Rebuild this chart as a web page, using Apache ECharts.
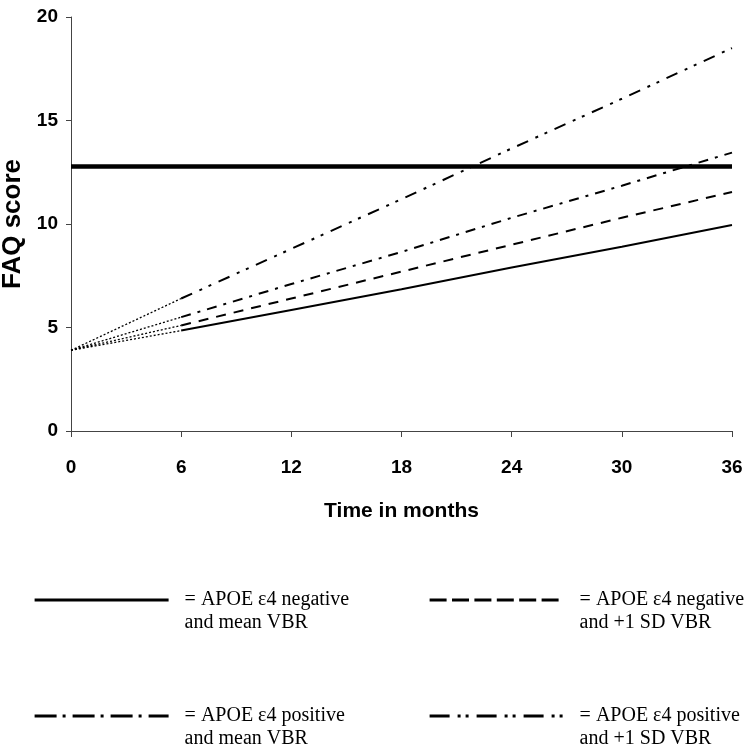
<!DOCTYPE html>
<html>
<head>
<meta charset="utf-8">
<script src="https://cdn.jsdelivr.net/npm/echarts@6/dist/echarts.min.js"></script>
<style>html,body{margin:0;padding:0;background:#fff}#c{width:754px;height:755px}</style>
</head>
<body>
<div id="c"></div>
<script>
// ---- data ----
var months = [0, 6, 12, 18, 24, 30, 36];
var negMean = [3.9, 4.85, 5.85, 6.85, 7.9, 8.9, 9.95];
var negSD   = [3.9, 5.1, 6.4, 7.7, 9.0, 10.3, 11.55];
var posMean = [3.9, 5.5, 7.1, 8.65, 10.3, 11.85, 13.45];
var posSD   = [3.9, 6.4, 8.8, 11.2, 13.65, 16.05, 18.5];
var cutoff = 12.8;
var yTicks = [0, 5, 10, 15, 20];
var labelLines = [
  ['= APOE \u03b54 negative', 'and mean VBR'],
  ['= APOE \u03b54 negative', 'and +1 SD VBR'],
  ['= APOE \u03b54 positive', 'and mean VBR'],
  ['= APOE \u03b54 positive', 'and +1 SD VBR']
];
var names = labelLines.map(function (l) { return l.join(' '); });

// ---- styles ----
var chartDash = ['solid', [10, 8], [10, 7, 3, 7], [12, 8, 3, 7, 3, 8]];
var legendDash = ['solid', [17, 5.4], [22, 6, 3, 7], [20, 8, 3, 5, 3, 8]];
var legendPos = [[33, 600], [428, 600], [33, 716], [428, 716]];
var sets = [negMean, negSD, posMean, posSD];

function pairs(vals, from, to) {
  var out = [];
  for (var i = from; i <= to; i++) out.push([months[i], vals[i]]);
  return out;
}

var series = [];
sets.forEach(function (vals, k) {
  series.push({
    name: 'early' + k, type: 'line', symbol: 'none', silent: true,
    data: pairs(vals, 0, 1),
    lineStyle: { color: '#000', width: 1.3, type: [2, 2] },
    z: 2
  });
  var s = {
    name: names[k], type: 'line', symbol: 'none', silent: true,
    data: pairs(vals, 1, months.length - 1),
    lineStyle: { color: '#000', width: 2, type: chartDash[k] },
    itemStyle: { color: '#000' },
    z: 3
  };
  if (k === 0) {
    s.markLine = {
      silent: true, symbol: 'none', animation: false,
      label: { show: false },
      lineStyle: { color: '#000', width: 4.5, type: 'solid' },
      data: [{ yAxis: cutoff }]
    };
  }
  series.push(s);
});

var legends = names.map(function (n, k) {
  return {
    data: [n], orient: 'horizontal', selectedMode: false,
    left: legendPos[k][0], top: legendPos[k][1] - 34.5, padding: 0,
    itemWidth: 134, itemHeight: 12,
    lineStyle: { width: 3.2, type: legendDash[k], color: '#000' },
    itemStyle: { opacity: 0 },
    formatter: function () {
      return '{e| }\n{t|' + labelLines[k][0] + '}\n{t|' + labelLines[k][1] + '}';
    },
    textStyle: {
      fontFamily: '"Liberation Serif", "Times New Roman", serif',
      fontSize: 20, color: '#000', lineHeight: 23,
      rich: {
        e: { fontSize: 20, lineHeight: 23 },
        t: { fontFamily: '"Liberation Serif", "Times New Roman", serif', fontSize: 20, lineHeight: 23, color: '#000', padding: [0, 0, 0, 11] }
      }
    }
  };
});

var chart = echarts.init(document.getElementById('c'), null, { renderer: 'canvas' });
chart.setOption({
  animation: false,
  backgroundColor: '#fff',
  grid: { left: 71, right: 22, top: 17, bottom: 324, containLabel: false, outerBoundsMode: 'none' },
  legend: legends,
  xAxis: {
    type: 'value', min: 0, max: 36, interval: 6,
    name: 'Time in months', nameLocation: 'middle', nameGap: 70,
    nameTextStyle: { fontFamily: '"Liberation Sans", Arial, sans-serif', fontWeight: 'bold', fontSize: 21, color: '#000' },
    axisLine: { lineStyle: { color: '#444', width: 1 } },
    axisTick: { show: true, length: 6, inside: false, lineStyle: { color: '#444' } },
    axisLabel: { margin: 27, fontFamily: '"Liberation Sans", Arial, sans-serif', fontWeight: 'bold', fontSize: 19, color: '#000' },
    splitLine: { show: false }
  },
  yAxis: {
    type: 'value', min: yTicks[0], max: yTicks[yTicks.length - 1], interval: 5,
    name: 'FAQ score', nameLocation: 'middle', nameGap: 27, nameRotate: 90,
    nameTextStyle: { fontFamily: '"Liberation Sans", Arial, sans-serif', fontWeight: 'bold', fontSize: 26, color: '#000' },
    axisLine: { show: true, lineStyle: { color: '#444', width: 1 } },
    axisTick: { show: true, length: 5, lineStyle: { color: '#444' } },
    axisLabel: { margin: 13, fontFamily: '"Liberation Sans", Arial, sans-serif', fontWeight: 'bold', fontSize: 19, color: '#000' },
    splitLine: { show: false }
  },
  series: series
});
</script>
</body>
</html>
